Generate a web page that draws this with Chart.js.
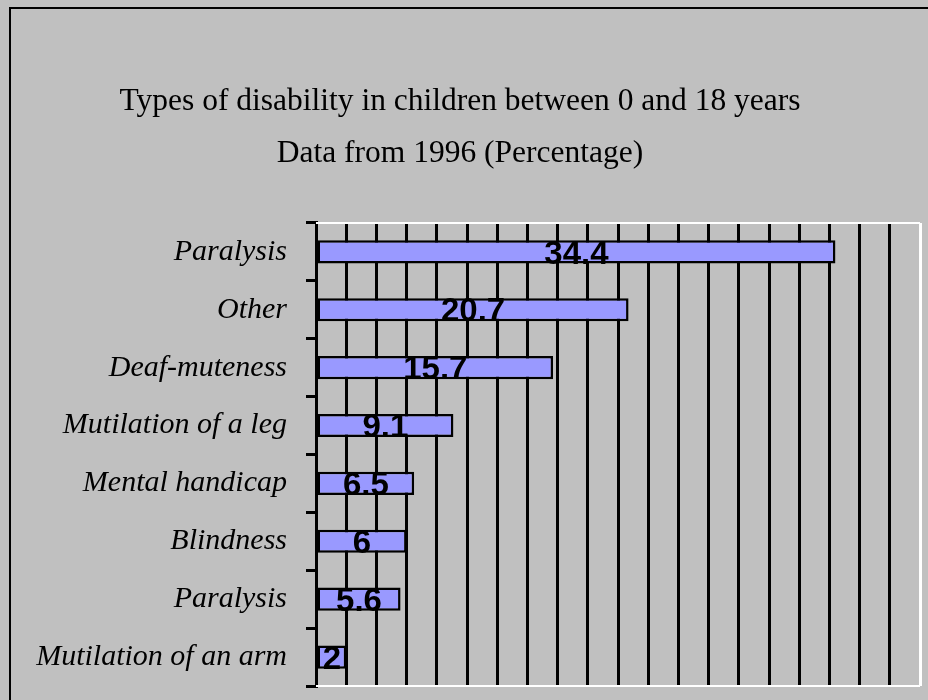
<!DOCTYPE html>
<html>
<head>
<meta charset="utf-8">
<script src="https://cdn.jsdelivr.net/npm/chart.js@4/dist/chart.umd.min.js"></script>
<style>
  html, body { margin: 0; padding: 0; background: #c0c0c0; }
  #wrap { width: 928px; height: 700px; }
</style>
</head>
<body>
<div id="wrap"><canvas id="chart" width="928" height="700"></canvas></div>
<script>
// Chart data
const categories = ['Paralysis', 'Other', 'Deaf-muteness', 'Mutilation of a leg',
  'Mental handicap', 'Blindness', 'Paralysis', 'Mutilation of an arm'];
const percentages = [34.4, 20.7, 15.7, 9.1, 6.5, 6, 5.6, 2];
const titleLines = ['Types of disability in children between 0 and 18 years',
  'Data from 1996 (Percentage)'];
const axisMax = 40;
const axisStep = 2;

// Grey page with the black frame
const backgroundPlugin = {
  id: 'background',
  beforeDraw(chart) {
    const ctx = chart.ctx;
    ctx.save();
    ctx.fillStyle = '#c0c0c0';
    ctx.fillRect(0, 0, chart.width, chart.height);
    ctx.strokeStyle = '#000';
    ctx.lineWidth = 2;
    ctx.strokeRect(10, 8, chart.width + 20, chart.height + 20);
    ctx.restore();
  },
  beforeDatasetsDraw(chart) {
    // white top / bottom edges of the plot area
    const { ctx, chartArea: a } = chart;
    ctx.save();
    ctx.strokeStyle = '#fff';
    ctx.lineWidth = 2;
    ctx.beginPath();
    ctx.moveTo(a.left, a.top);
    ctx.lineTo(a.right, a.top);
    ctx.moveTo(a.left, a.bottom);
    ctx.lineTo(a.right, a.bottom);
    ctx.stroke();
    ctx.restore();
  }
};

// Value labels centred in each bar
const valueLabels = {
  id: 'valueLabels',
  afterDatasetsDraw(chart) {
    const ctx = chart.ctx;
    const meta = chart.getDatasetMeta(0);
    const size = 33;
    ctx.save();
    ctx.font = 'bold ' + size + 'px "Liberation Sans", Arial, sans-serif';
    ctx.fillStyle = '#000';
    ctx.textAlign = 'center';
    ctx.textBaseline = 'alphabetic';
    meta.data.forEach((bar, i) => {
      const x = (bar.x + bar.base) / 2;
      ctx.fillText(String(percentages[i]), x, bar.y + size * 0.355);
    });
    ctx.restore();
  }
};

new Chart(document.getElementById('chart'), {
  type: 'bar',
  data: {
    labels: categories,
    datasets: [{
      data: percentages,
      backgroundColor: '#9999ff',
      borderColor: '#000',
      borderWidth: 2.5,
      borderSkipped: false,
      categoryPercentage: 1,
      barPercentage: 0.4
    }]
  },
  options: {
    indexAxis: 'y',
    responsive: false,
    animation: false,
    layout: { padding: { top: 0, left: 0, right: 8, bottom: 14 } },
    plugins: {
      legend: { display: false },
      tooltip: { enabled: false },
      title: {
        display: true,
        text: titleLines,
        color: '#000',
        font: { family: '"Liberation Serif", "Times New Roman", serif', size: 31.5, weight: 'normal', lineHeight: 1.65 },
        padding: { top: 76, bottom: 43 }
      }
    },
    scales: {
      x: {
        min: 0,
        max: axisMax,
        ticks: { display: false, stepSize: axisStep },
        border: { display: false },
        grid: {
          drawTicks: false,
          lineWidth: 3,
          color: ctx => (ctx.tick && ctx.tick.value === axisMax) ? '#fff' : '#000'
        },
        afterFit(scale) { scale.height = 0; }
      },
      y: {
        border: { display: true, color: '#000', width: 3 },
        grid: {
          offset: true,
          drawOnChartArea: false,
          drawTicks: true,
          tickLength: 10,
          color: '#000',
          lineWidth: 3
        },
        ticks: {
          color: '#000',
          padding: 19,
          font: { family: '"Liberation Serif", "Times New Roman", serif', size: 30, style: 'italic' }
        },
        afterFit(scale) {
          scale.width = 316;
          scale.paddingTop = 0;
          scale.paddingBottom = 0;
        }
      }
    }
  },
  plugins: [backgroundPlugin, valueLabels]
});
</script>
</body>
</html>
